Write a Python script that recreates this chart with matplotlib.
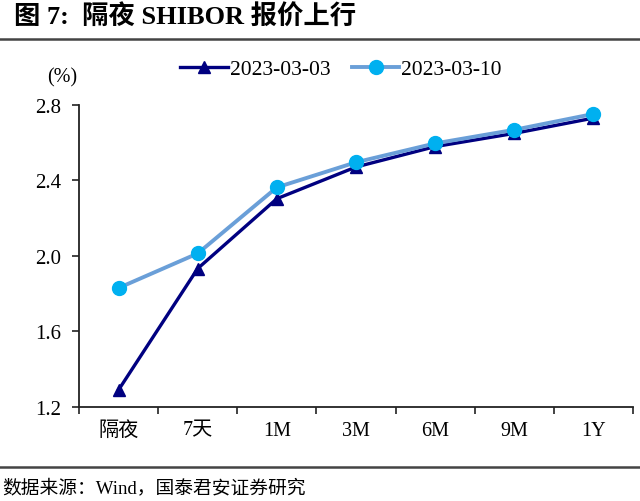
import matplotlib
matplotlib.use("Agg")
import matplotlib.pyplot as plt
from matplotlib.lines import Line2D
import numpy as np

categories = ["隔夜", "7天", "1M", "3M", "6M", "9M", "1Y"]
series_0303 = [1.289, 1.932, 2.302, 2.470, 2.578, 2.648, 2.729]
series_0310 = [1.829, 2.012, 2.362, 2.495, 2.595, 2.667, 2.751]
label_0303 = "2023-03-03"
label_0310 = "2023-03-10"
yticks = [1.2, 1.6, 2.0, 2.4, 2.8]

plt.rcParams['font.family'] = ['Liberation Serif', 'Noto Sans CJK SC', 'DejaVu Sans']

fig = plt.figure(figsize=(6.4, 5.02), dpi=100)
ax = fig.add_axes([79/640, 1-407.7/502, (633-79)/640, (407.7-105.7)/502])

x = np.arange(len(categories))
ax.plot(x, series_0303, color='#000080', lw=2.4, marker='^', ms=8.5,
        markerfacecolor='#000080', markeredgecolor='#000080', zorder=3)
ax.plot(x, series_0310, color='#6A9FD8', lw=2.8, marker='o', ms=10,
        markerfacecolor='#00B0F0', markeredgecolor='#00B0F0', zorder=4)

ax.set_xlim(-0.5, len(categories)-0.5)
ax.set_ylim(1.2, 2.8)
ax.set_yticks(yticks)
ax.set_yticklabels([f"{v:.1f}" for v in yticks])
ax.set_xticks(np.arange(len(categories)+1)-0.5)
ax.set_xticklabels([])
ax.set_xticks(x, minor=True)
ax.set_xticklabels(categories, minor=True)
ax.tick_params(axis='x', which='major', length=5, width=1.2, direction='out', color='#222222')
ax.tick_params(axis='x', which='minor', length=0, pad=10, labelsize=14.5)
ax.tick_params(axis='y', length=5, width=1.2, direction='out', labelsize=15, pad=8, color='#222222')
for s in ['top', 'right']:
    ax.spines[s].set_visible(False)
for s in ['left', 'bottom']:
    ax.spines[s].set_linewidth(1.3)
    ax.spines[s].set_color('#222222')

# (%) unit label
fig.text(62/640, 1-78/502, "(%)", ha='center', va='center', fontsize=14.5)

# legend
handles = [Line2D([], [], color='#000080', lw=2.4, marker='^', ms=8.5,
                  markerfacecolor='#000080', markeredgecolor='#000080'),
           Line2D([], [], color='#6A9FD8', lw=2.8, marker='o', ms=10,
                  markerfacecolor='#00B0F0', markeredgecolor='#00B0F0')]
fig.legend(handles, [label_0303, label_0310], loc='center', bbox_to_anchor=(341/640, 1-70/502),
           ncol=2, frameon=False, fontsize=15.5, handlelength=2.2, handletextpad=0.1,
           columnspacing=1.0, borderaxespad=0)

# title and separators
fig.text(14/640, 1-17/502, "图 7:  隔夜 SHIBOR 报价上行", ha='left', va='center',
         fontsize=19, fontweight='bold')
fig.add_artist(Line2D([0, 1], [1-40/502, 1-40/502], color='#444444', lw=1.8,
                      transform=fig.transFigure))
fig.add_artist(Line2D([0, 1], [1-468/502, 1-468/502], color='#444444', lw=1.8,
                      transform=fig.transFigure))
fig.text(2/640, 1-488/502, "数据来源：Wind，国泰君安证券研究", ha='left', va='center',
         fontsize=13.5)

fig.savefig("out.png", dpi=100)
